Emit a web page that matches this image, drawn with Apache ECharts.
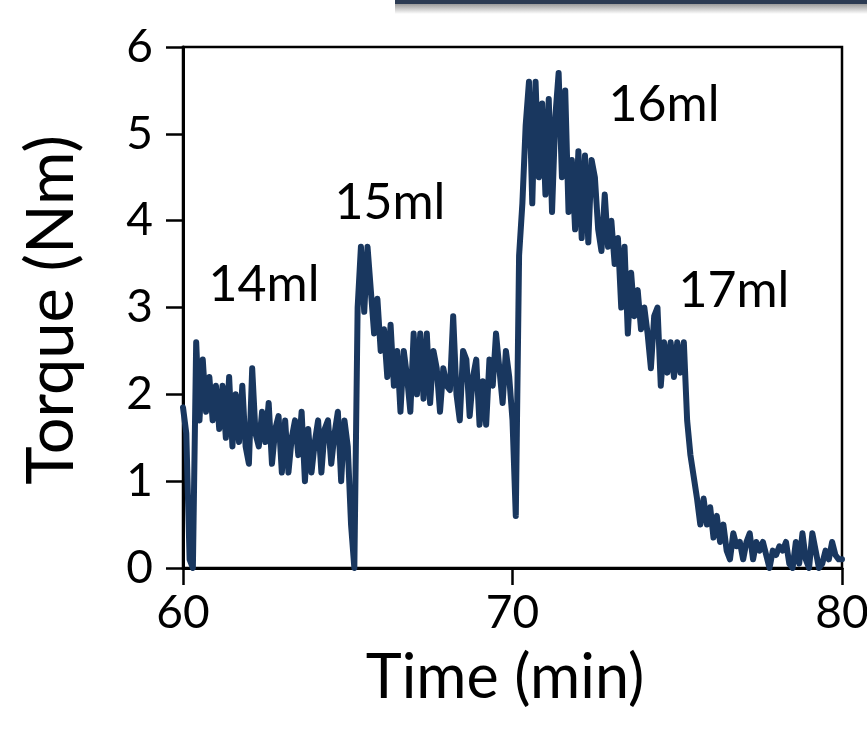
<!DOCTYPE html>
<html>
<head>
<meta charset="utf-8">
<script src="https://cdn.jsdelivr.net/npm/echarts@6/dist/echarts.min.js"></script>
<style>
  html, body { margin: 0; padding: 0; background: #fff; overflow: hidden; }
  #chart { width: 867px; height: 730px; }
</style>
</head>
<body>
<div id="chart"></div>
<script>
// torque sampled every 0.1 min from 60 min
const startTime = 60;
const sampleStep = 0.1;
const torque = [
  1.85, 1.55, 0.1, 0.0, 2.6, 1.7, 2.4, 1.8, 2.2, 1.7,
  2.1, 1.6, 2.1, 1.5, 2.2, 1.4, 2.0, 1.45, 2.1, 1.4,
  1.2, 2.3, 1.55, 1.4, 1.8, 1.45, 1.9, 1.2, 1.6, 1.75,
  1.1, 1.7, 1.1, 1.5, 1.7, 1.3, 1.8, 1.0, 1.6, 1.1,
  1.45, 1.7, 1.1, 1.6, 1.7, 1.2, 1.55, 1.8, 1.0, 1.7,
  1.4, 0.5, 0.0, 3.0, 3.7, 2.95, 3.7, 3.2, 2.7, 3.1,
  2.5, 2.75, 2.2, 2.8, 2.1, 2.5, 1.8, 2.5, 2.2, 1.8,
  2.7, 2.0, 2.7, 1.95, 2.7, 1.9, 2.5, 2.3, 1.8, 2.3,
  2.1, 2.05, 2.9, 2.0, 1.7, 2.5, 2.4, 1.75, 2.2, 2.4,
  1.65, 2.15, 1.65, 2.4, 2.1, 2.7, 2.3, 1.9, 2.5, 2.2,
  1.7, 0.6, 3.6, 4.2, 5.1, 5.6, 4.2, 5.6, 4.5, 5.35,
  4.3, 5.4, 4.1, 5.2, 5.7, 4.5, 5.5, 4.1, 4.7, 3.9,
  4.8, 3.8, 4.75, 3.75, 4.7, 4.5, 3.9, 3.65, 4.3, 3.7,
  4.0, 3.5, 3.8, 3.0, 3.7, 2.7, 3.4, 2.9, 3.2, 2.75,
  3.0, 2.7, 2.3, 2.9, 3.0, 2.1, 2.6, 2.25, 2.6, 2.2,
  2.6, 2.25, 2.6, 1.7, 1.3, 1.05, 0.8, 0.5, 0.8, 0.5,
  0.7, 0.35, 0.6, 0.3, 0.5, 0.2, 0.1, 0.4, 0.25, 0.3,
  0.1, 0.3, 0.4, 0.1, 0.3, 0.2, 0.3, 0.15, 0.0, 0.2,
  0.15, 0.25, 0.2, 0.3, 0.05, 0.0, 0.3, 0.05, 0.4, 0.1,
  0.0, 0.4, 0.2, 0.0, 0.05, 0.2, 0.1, 0.3, 0.15, 0.1,
  0.1
];
const xTicks = [60, 70, 80];
const yTicks = [0, 1, 2, 3, 4, 5, 6];
const notes = [
  { text: "14ml", at: [62.46, 3.26] },
  { text: "15ml", at: [66.28, 4.2] },
  { text: "16ml", at: [74.6, 5.33] },
  { text: "17ml", at: [76.72, 3.19] }
];

const font = "Lato";
const seriesData = torque.map((v, i) => [startTime + i * sampleStep, v]);

const chart = echarts.init(document.getElementById("chart"));
const option = {
  animation: false,
  grid: {
    left: 183, right: 25, top: 47, bottom: 162,
    outerBoundsMode: "none", containLabel: false,
    show: true, borderColor: "#000", borderWidth: 2.5,
    backgroundColor: "transparent"
  },
  xAxis: {
    type: "value",
    min: xTicks[0], max: xTicks[xTicks.length - 1], interval: 10,
    axisLine: { show: true, onZero: false, lineStyle: { color: "#000", width: 3 } },
    axisTick: { show: true, inside: false, length: 17, lineStyle: { color: "#000", width: 2.5 } },
    axisLabel: { color: "#000", fontFamily: font, fontSize: 46, margin: 22 },
    splitLine: { show: false }
  },
  yAxis: {
    type: "value",
    min: yTicks[0], max: yTicks[yTicks.length - 1], interval: 1,
    axisLine: { show: true, lineStyle: { color: "#000", width: 3 } },
    axisTick: { show: true, inside: false, length: 17, lineStyle: { color: "#000", width: 2.5 } },
    axisLabel: { color: "#000", fontFamily: font, fontSize: 46, margin: 30 },
    splitLine: { show: false }
  },
  series: [{
    type: "line",
    data: seriesData,
    showSymbol: false,
    lineStyle: { color: "#19375f", width: 6, cap: "round", join: "round" },
    z: 3
  }],
  graphic: [
    {
      type: "rect", left: 395, top: 0,
      shape: { width: 472, height: 4 },
      style: { fill: "#2b3a52" }
    },
    {
      type: "rect", left: 395, top: 4,
      shape: { width: 472, height: 10 },
      style: {
        fill: new echarts.graphic.LinearGradient(0, 0, 0, 1, [
          { offset: 0, color: "#9a9a9a" },
          { offset: 1, color: "#ffffff" }
        ])
      }
    },
    {
      type: "text", x: 52, y: 310, rotation: Math.PI / 2,
      style: {
        text: "Torque (Nm)", fill: "#000", font: "65px " + font,
        align: "center", verticalAlign: "middle"
      }
    },
    {
      type: "text", x: 505, y: 678,
      style: {
        text: "Time (min)", fill: "#000", font: "61px " + font,
        align: "center", verticalAlign: "middle"
      }
    }
  ]
};
chart.setOption(option);

// place the volume notes in data coordinates
const noteGraphics = notes.map(n => {
  const p = chart.convertToPixel({ gridIndex: 0 }, n.at);
  return {
    type: "text", x: p[0], y: p[1],
    style: {
      text: n.text, fill: "#000", font: "50px " + font,
      align: "center", verticalAlign: "middle"
    }
  };
});
chart.setOption({ graphic: option.graphic.concat(noteGraphics) });
</script>
</body>
</html>
